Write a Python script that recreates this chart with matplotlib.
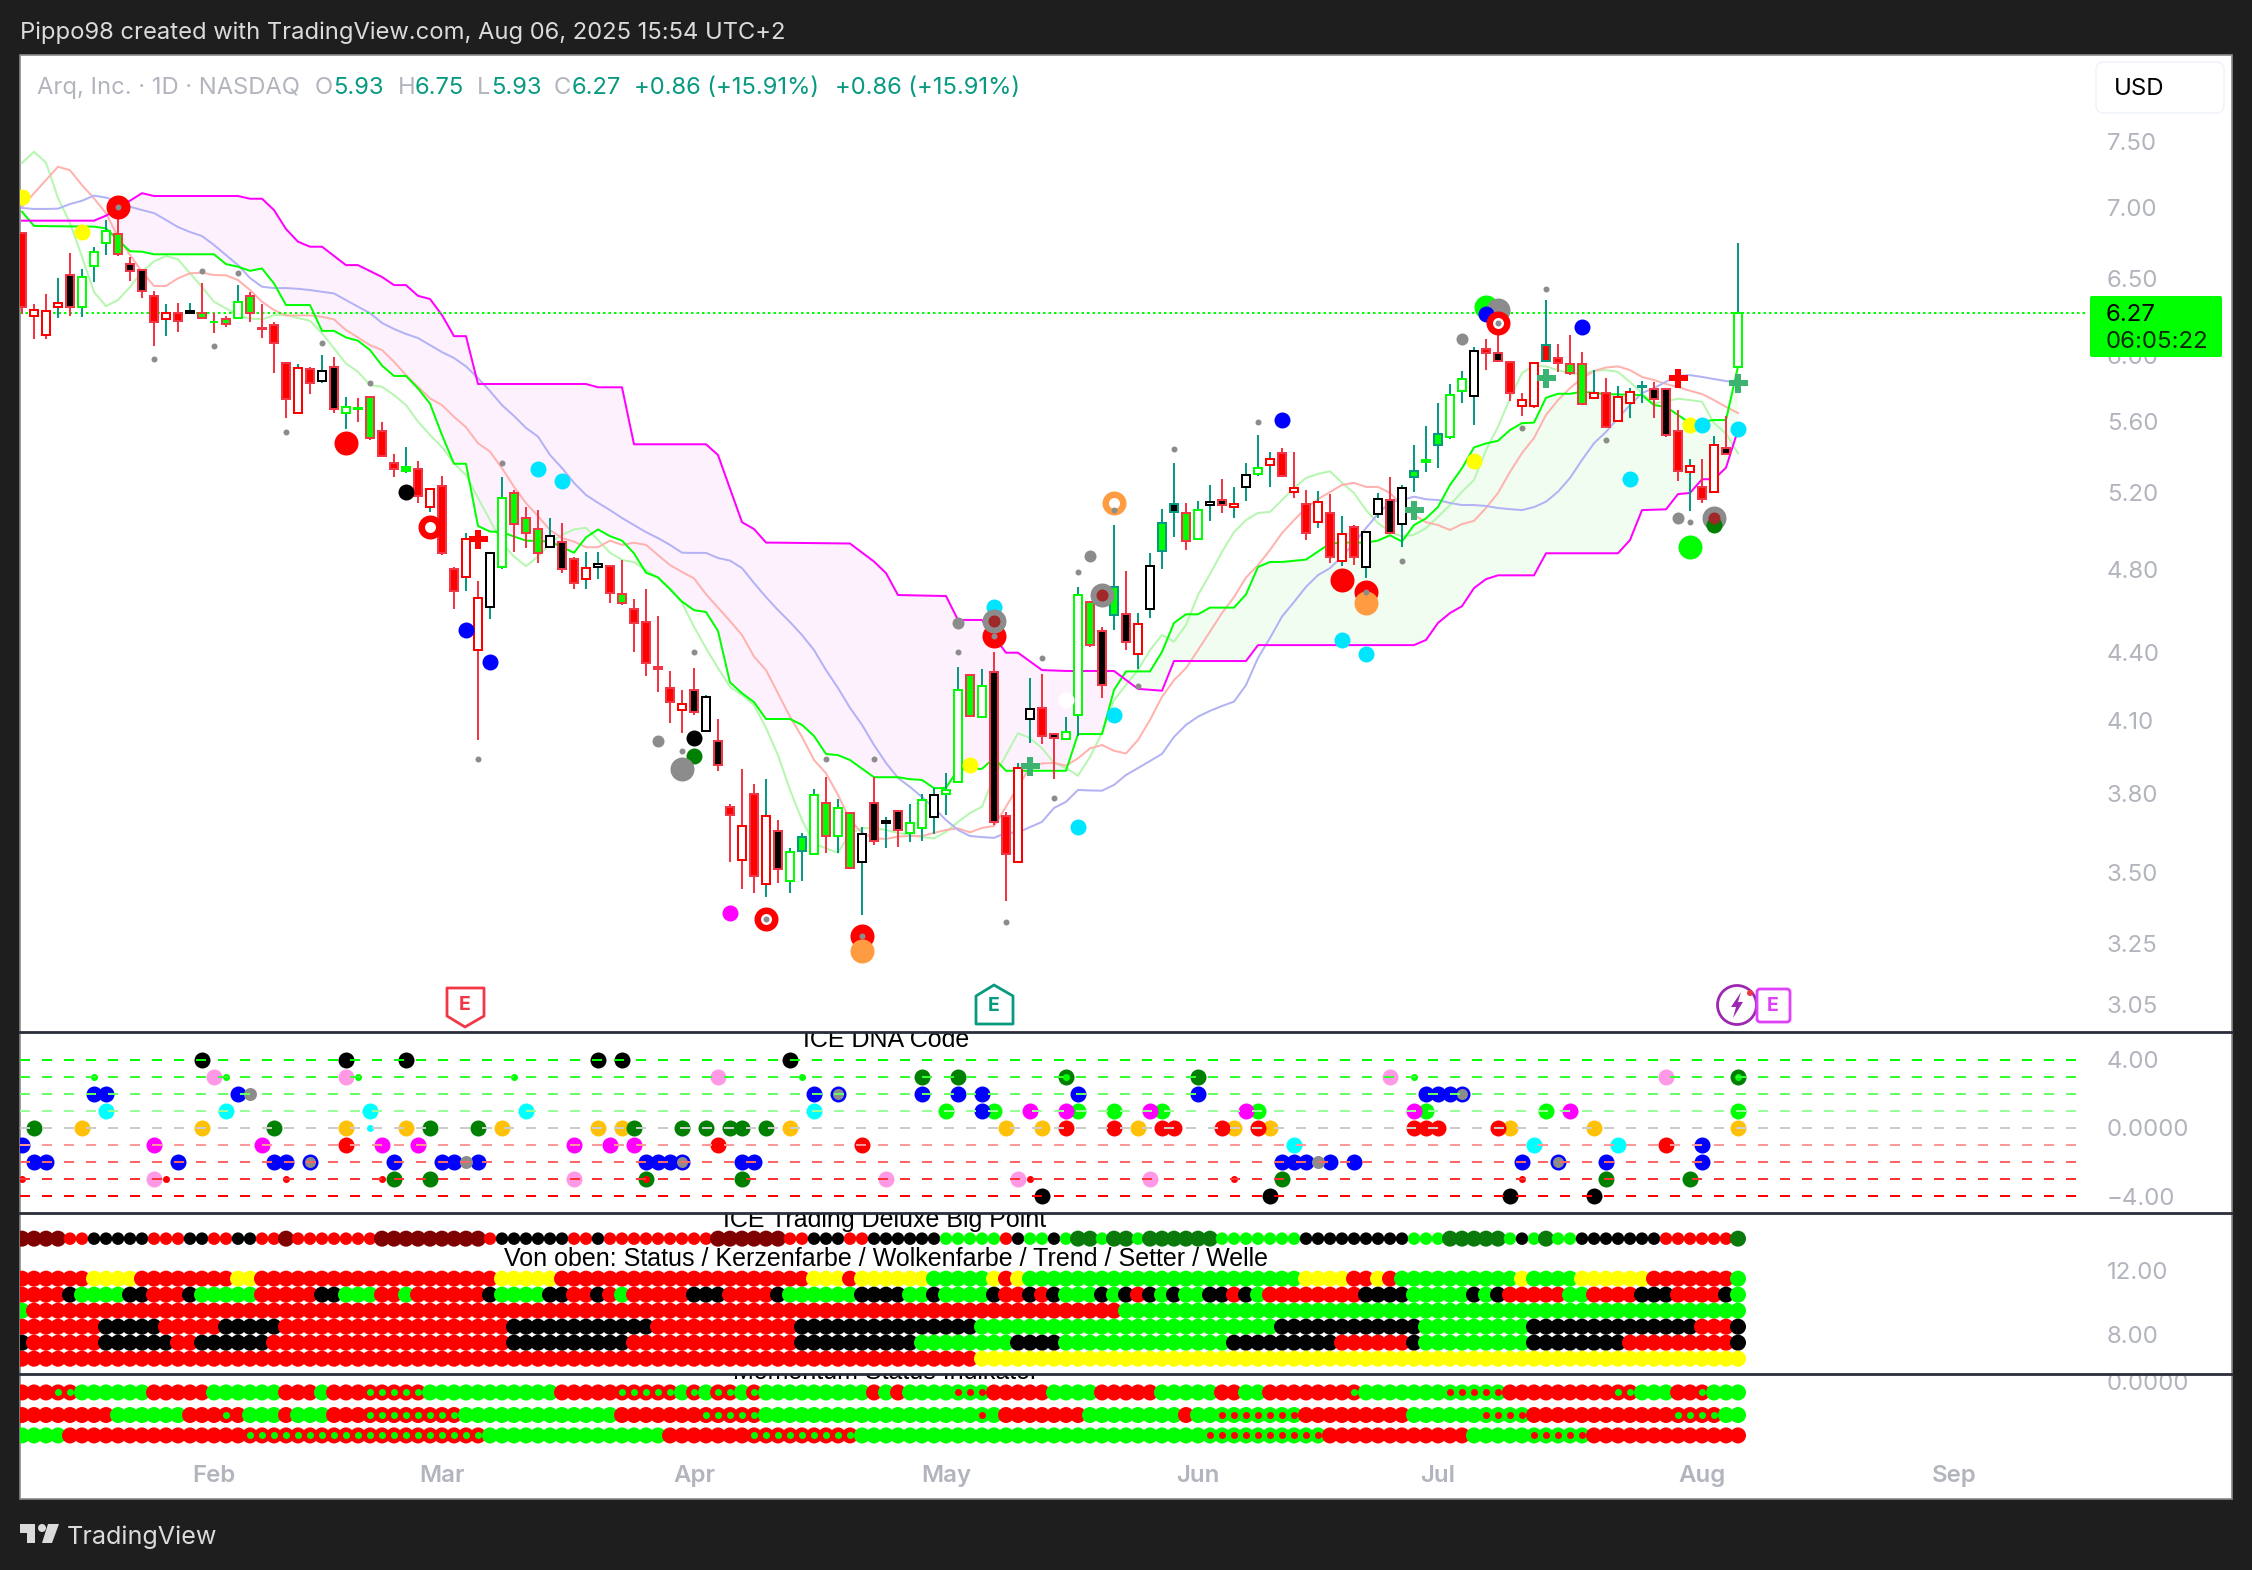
import matplotlib
matplotlib.use("Agg")
import matplotlib.pyplot as plt
import matplotlib.ticker
import numpy as np
from matplotlib.patches import Rectangle, Polygon, FancyBboxPatch, Circle
from matplotlib.lines import Line2D
from matplotlib.transforms import Affine2D

plt.rcParams['font.family'] = ['Inter', 'DejaVu Sans']

W, H = 2252, 1570

# ---- candles, one entry per trading day
highs = [6.819,6.332,6.398,6.506,6.678,6.567,6.720,6.912,6.926,6.650,
  6.560,6.418,6.332,6.338,6.338,6.472,6.272,6.253,6.458,6.411,
  6.332,6.214,5.953,5.947,5.928,6.004,5.991,5.746,5.740,5.746,
  5.598,5.414,5.454,5.375,5.221,5.292,4.812,4.986,4.743,4.889,
  5.287,5.215,5.123,5.107,5.065,5.038,4.863,4.889,4.889,4.817,
  4.848,4.655,4.703,4.573,4.318,4.233,4.331,4.211,4.107,3.758,
  3.898,3.838,3.858,3.696,3.590,3.647,3.818,3.866,3.778,3.723,
  3.669,3.866,3.708,3.731,3.758,3.798,3.822,3.882,4.336,4.300,
  4.327,4.404,3.727,3.923,4.286,4.304,4.043,4.116,4.713,4.640,
  4.520,5.028,4.792,4.587,4.884,5.112,5.364,5.145,5.156,5.243,
  5.276,5.232,5.364,5.523,5.426,5.448,5.426,5.215,5.210,5.193,
  5.075,5.028,4.991,5.199,5.287,5.243,5.465,5.575,5.710,5.825,
  5.904,6.054,6.104,6.162,5.960,5.770,5.953,6.358,6.073,6.130,
  6.022,5.910,5.861,5.813,5.800,5.843,5.837,5.794,5.669,5.386,
  5.386,5.517,5.634,6.750]
body_top = [6.819,6.292,6.285,6.338,6.526,6.513,6.685,6.833,6.812,6.601,
  6.560,6.385,6.272,6.272,6.285,6.272,6.214,6.233,6.345,6.385,
  6.175,6.195,5.953,5.922,5.916,5.904,5.928,5.687,5.681,5.746,
  5.546,5.364,5.342,5.331,5.221,5.237,4.802,4.955,4.660,4.884,
  5.172,5.199,5.065,5.007,4.971,4.940,4.853,4.807,4.828,4.817,
  4.679,4.606,4.544,4.336,4.242,4.172,4.233,4.202,4.014,3.747,
  3.673,3.798,3.711,3.654,3.575,3.631,3.794,3.762,3.743,3.723,
  3.643,3.762,3.692,3.731,3.685,3.774,3.794,3.814,4.233,4.300,
  4.251,4.313,3.711,3.902,4.150,4.155,4.043,4.052,4.674,4.640,
  4.501,4.713,4.582,4.535,4.817,5.038,5.140,5.091,5.107,5.150,
  5.161,5.140,5.297,5.336,5.386,5.420,5.226,5.140,5.150,5.091,
  4.981,5.017,4.991,5.166,5.161,5.226,5.320,5.381,5.529,5.758,
  5.855,6.029,6.041,6.016,5.960,5.728,5.953,6.067,5.985,5.947,
  5.947,5.770,5.770,5.746,5.776,5.813,5.794,5.794,5.546,5.347,
  5.232,5.465,5.448,6.270]
body_bot = [6.312,6.253,6.130,6.312,6.312,6.312,6.587,6.748,6.671,6.553,
  6.418,6.214,6.233,6.220,6.272,6.240,6.211,6.201,6.240,6.272,
  6.169,6.079,5.734,5.651,5.831,5.843,5.675,5.651,5.675,5.506,
  5.403,5.331,5.320,5.183,5.123,4.884,4.693,4.763,4.413,4.616,
  4.812,5.033,4.986,4.884,4.914,4.802,4.733,4.753,4.812,4.684,
  4.636,4.540,4.354,4.327,4.180,4.146,4.137,4.056,3.915,3.715,
  3.545,3.486,3.458,3.512,3.468,3.578,3.567,3.635,3.635,3.515,
  3.538,3.616,3.685,3.658,3.647,3.665,3.708,3.798,3.846,4.120,
  4.116,3.688,3.567,3.538,4.107,4.035,4.026,4.022,4.124,4.436,
  4.255,4.578,4.451,4.395,4.606,4.894,5.096,4.945,4.955,5.134,
  5.134,5.123,5.232,5.303,5.353,5.292,5.204,4.986,5.043,4.863,
  4.843,4.863,4.812,5.086,4.986,5.033,5.287,5.370,5.465,5.511,
  5.782,5.752,6.016,5.966,5.770,5.692,5.692,5.966,5.953,5.892,
  5.704,5.740,5.569,5.604,5.710,5.806,5.734,5.523,5.320,5.314,
  5.166,5.204,5.414,5.930]
lows = [6.266,6.104,6.104,6.240,6.253,6.247,6.479,6.664,6.657,6.485,
  6.371,6.060,6.124,6.149,6.266,6.240,6.143,6.182,6.240,6.214,
  6.111,5.892,5.622,5.651,5.764,5.831,5.651,5.558,5.598,5.494,
  5.403,5.287,5.308,5.145,5.096,4.873,4.606,4.693,4.018,4.559,
  4.802,4.889,4.909,4.833,4.914,4.782,4.703,4.703,4.753,4.636,
  4.626,4.404,4.295,4.224,4.090,4.047,4.124,4.056,3.890,3.538,
  3.440,3.425,3.411,3.461,3.425,3.468,3.567,3.571,3.571,3.512,
  3.347,3.601,3.590,3.594,3.612,3.616,3.643,3.715,3.846,4.116,
  4.116,3.677,3.396,3.538,4.005,4.001,3.858,4.018,4.035,4.426,
  4.198,4.506,4.413,4.327,4.563,4.802,4.965,4.899,4.950,5.049,
  5.091,5.065,5.156,5.292,5.232,5.287,5.172,4.950,5.012,4.833,
  4.817,4.822,4.758,5.065,4.981,4.914,5.204,5.314,5.336,5.500,
  5.710,5.581,5.910,5.960,5.722,5.634,5.681,5.960,5.898,5.879,
  5.698,5.734,5.564,5.604,5.622,5.710,5.622,5.511,5.265,5.102,
  5.145,5.204,5.414,5.930]
# u = up day (teal wick), d = down day (red wick)
direction = ("ddduduuuddddududddud" + "dddudududdddududdudu" +
  "uddd" "u" "dd" "uu" "dddddddd" "u" "dd" +
  "ddu" "d" "uuu" "d" "u" "d" "u" "d" "u" "d" "uuuuu" "d" +
  "u" "dd" "uu" "dd" "uu" "dd" "u" "d" "uuuu" "d" "uu" +
  "d" "uuuu" "ddd" "u" "d" "u" "d" "uu" "d" "uuuuu" +
  "uu" "ddddd" "u" "ddd" "u" "d" "uuu" "ddd" "u" +
  "dudu")
# body colours: R/K/G filled, L flat lime, r/k/g hollow
body_style = ("RrrrKgggGKKRrRkGLGgG" "RRRrRkKgLGRRLRrRRrrk" "gGGGkKRrkRGRRRRrKkKR"
  "rRrKgGgGgGkKkKggkggG" "gKRrkRKggGKGKrkGKGgk" "KrkgrRrRrRrRkkKkGLGg"
  "gkRKRrrRRGGrRrrGKKRr" "RrKg")

# ---- overlay lines
magenta_k = [0,6,7,10,11,18,19,20,21,22,23,24,25,27,28,30,31,32,33,34,35,36,37,38,47,48,50,51,57,58,60,61,62,69,71,72,73,77,78,80,82,83,85,87,91,93,95,96,102,103,116,117,118,119,120,121,122,123,126,127,133,134,135,137,138,139,140,141,142,143]
magenta_p = [6.907,6.907,6.943,7.108,7.087,7.087,7.067,7.067,6.984,6.847,6.757,6.722,6.722,6.594,6.594,6.513,6.458,6.458,6.386,6.365,6.259,6.123,6.123,5.825,5.825,5.805,5.805,5.470,5.470,5.409,5.043,5.007,4.937,4.932,4.840,4.782,4.674,4.669,4.554,4.554,4.401,4.401,4.322,4.318,4.318,4.238,4.230,4.363,4.363,4.436,4.436,4.460,4.540,4.587,4.620,4.708,4.752,4.771,4.771,4.882,4.882,4.950,5.107,5.111,5.193,5.199,5.274,5.274,5.338,5.552]
lime_k = [0,1,6,7,8,9,10,11,16,17,18,19,20,21,22,24,25,26,27,28,29,30,31,32,33,34,35,36,37,38,39,40,41,42,44,46,47,48,49,50,51,52,53,54,55,56,57,58,59,60,61,62,64,65,66,67,68,69,71,73,74,75,76,77,78,80,81,82,87,88,90,91,92,94,95,96,97,98,99,101,102,103,104,105,107,108,109,110,112,113,114,115,116,117,118,119,120,121,122,123,124,125,126,127,128,129,130,132,135,136,137,138,139,141,142,143]
lime_p = [6.972,6.869,6.864,6.852,6.769,6.690,6.687,6.669,6.669,6.601,6.583,6.555,6.571,6.469,6.325,6.325,6.157,6.157,6.115,6.094,6.035,5.938,5.874,5.874,5.798,5.707,5.523,5.360,5.360,5.023,4.994,4.991,4.968,4.947,4.942,4.885,4.964,5.005,4.970,4.947,4.882,4.784,4.761,4.702,4.642,4.601,4.592,4.502,4.267,4.219,4.180,4.107,4.107,4.082,4.035,3.960,3.955,3.935,3.865,3.865,3.857,3.854,3.821,3.822,3.897,3.899,3.943,3.891,3.891,4.043,4.043,4.233,4.316,4.316,4.405,4.540,4.581,4.581,4.613,4.613,4.677,4.813,4.838,4.838,4.850,4.891,4.932,4.937,4.937,4.947,4.975,4.942,5.028,5.063,5.124,5.243,5.335,5.452,5.475,5.490,5.552,5.592,5.595,5.742,5.766,5.766,5.778,5.764,5.758,5.698,5.688,5.640,5.592,5.610,5.610,5.933]
faint_green = [7.335,7.422,7.338,7.072,6.890,6.652,6.411,6.318,6.358,6.445,
  6.549,6.620,6.657,6.634,6.538,6.445,6.347,6.303,6.259,6.237,
  6.231,6.259,6.259,6.240,6.222,6.142,6.046,5.951,5.899,5.819,
  5.808,5.758,5.698,5.601,5.523,5.454,5.362,5.297,5.172,5.054,
  4.934,4.865,4.817,4.865,4.934,4.977,5.005,5.014,4.950,4.885,
  4.848,4.837,4.797,4.758,4.708,4.636,4.522,4.422,4.331,4.247,
  4.211,4.167,4.069,3.955,3.814,3.696,3.608,3.588,3.572,3.645,
  3.665,3.665,3.658,3.647,3.639,3.631,3.626,3.651,3.689,3.723,
  3.748,3.867,3.955,4.047,4.026,3.984,3.923,3.902,3.871,3.948,
  4.048,4.189,4.255,4.322,4.413,4.483,4.452,4.530,4.674,4.777,
  4.889,4.991,5.054,5.092,5.097,5.161,5.226,5.281,5.303,5.318,
  5.254,5.199,5.107,5.038,4.994,4.968,4.977,5.012,5.071,5.134,
  5.206,5.270,5.437,5.571,5.738,5.892,5.938,5.933,5.910,5.889,
  5.885,5.906,5.910,5.899,5.837,5.768,5.707,5.722,5.736,5.728,
  5.718,5.592,5.532,5.418]
faint_red = [7.008,7.107,7.206,7.307,7.280,7.168,7.070,6.960,6.792,6.664,
  6.549,6.452,6.452,6.504,6.538,6.542,6.526,6.524,6.492,6.425,
  6.347,6.292,6.257,6.257,6.257,6.248,6.231,6.162,6.115,6.066,
  6.035,5.962,5.879,5.808,5.738,5.698,5.629,5.568,5.476,5.428,
  5.335,5.233,5.144,5.075,5.002,4.960,4.942,4.913,4.913,4.947,
  4.925,4.936,4.925,4.873,4.822,4.788,4.756,4.678,4.613,4.549,
  4.483,4.383,4.322,4.218,4.117,4.031,3.935,3.881,3.794,3.696,
  3.647,3.626,3.624,3.633,3.635,3.635,3.647,3.658,3.664,3.649,
  3.666,3.673,3.748,3.827,3.907,3.921,3.923,3.912,3.942,3.983,
  3.997,3.973,3.962,4.018,4.103,4.203,4.277,4.331,4.413,4.499,
  4.587,4.664,4.760,4.822,4.899,4.986,5.054,5.118,5.166,5.204,
  5.243,5.254,5.232,5.232,5.199,5.134,5.081,5.043,5.028,5.002,
  5.033,5.050,5.118,5.199,5.314,5.420,5.506,5.640,5.728,5.800,
  5.861,5.904,5.926,5.933,5.910,5.868,5.849,5.825,5.806,5.784,
  5.764,5.728,5.688,5.651]
faint_blue = [6.999,6.992,6.992,6.994,7.028,7.052,7.090,7.075,7.049,7.008,
  6.984,6.962,6.912,6.861,6.826,6.797,6.734,6.664,6.594,6.506,
  6.447,6.438,6.438,6.433,6.425,6.413,6.402,6.358,6.314,6.272,
  6.208,6.169,6.137,6.111,6.066,6.022,5.985,5.933,5.861,5.782,
  5.698,5.634,5.564,5.514,5.409,5.336,5.254,5.188,5.146,5.107,
  5.065,5.028,4.991,4.960,4.925,4.885,4.884,4.884,4.858,4.845,
  4.807,4.733,4.664,4.601,4.544,4.483,4.413,4.322,4.242,4.155,
  4.082,3.997,3.923,3.862,3.826,3.786,3.743,3.696,3.658,3.635,
  3.631,3.628,3.647,3.648,3.669,3.689,3.743,3.767,3.814,3.812,
  3.811,3.834,3.874,3.902,3.931,3.960,4.031,4.082,4.117,4.142,
  4.163,4.182,4.255,4.377,4.469,4.570,4.640,4.714,4.772,4.807,
  4.865,4.934,5.012,5.086,5.150,5.161,5.179,5.165,5.161,5.145,
  5.134,5.134,5.129,5.118,5.112,5.107,5.123,5.152,5.206,5.281,
  5.381,5.476,5.541,5.622,5.698,5.770,5.800,5.839,5.876,5.879,
  5.868,5.855,5.843,5.831]

# ---- signal markers on the price pane (drawn in this order)
signals = [(0,7.079,'yellow'),(5,6.828,'yellow'),(8,7.008,'red'),(8,7.008,'gs'),
  (15,6.553,'gs'),(18,6.542,'gs'),(16,6.060,'gs'),(11,5.980,'gs'),(25,6.082,'gs'),(29,5.831,'gs'),(22,5.542,'gs'),(40,5.366,'gs'),
  (27,5.479,'red'),(32,5.206,'black'),(43,5.331,'cyan'),(45,5.266,'cyan'),(34,5.019,'ring'),(38,4.955,'redplus'),
  (37,4.506,'blue'),(39,4.359,'blue'),(38,3.939,'gs'),(56,4.404,'gs'),(53,4.015,'gm'),(56,4.026,'black'),(55,3.972,'gs'),
  (56,3.951,'dkgreen'),(55,3.898,'gb'),(59,3.356,'magenta'),(62,3.334,'ring'),(62,3.334,'gs'),
  (70,3.276,'red'),(70,3.276,'gs'),(70,3.224,'orange'),(82,3.324,'gs'),(88,3.670,'cyan'),(84,3.911,'plus'),(79,3.915,'yellow'),
  (87,4.189,'white'),(91,4.124,'cyan'),(93,4.251,'gs'),(85,4.378,'gs'),(86,3.783,'gs'),(67,3.940,'gs'),(71,3.940,'gs'),
  (78,4.405,'gs'),(78,4.540,'gm'),(81,4.618,'cyan'),(81,4.478,'red'),(81,4.478,'gs'),(81,4.551,'gb'),(81,4.551,'brown'),
  (89,4.868,'gm'),(88,4.789,'gs'),(90,4.674,'gb'),(90,4.674,'brown'),(91,5.145,'oring'),(91,5.107,'gs'),
  (110,4.748,'red'),(110,4.460,'cyan'),(112,4.689,'red'),(112,4.636,'orange'),(112,4.689,'gs'),(112,4.395,'cyan'),(115,4.843,'gs'),
  (96,5.443,'gs'),(103,5.600,'gs'),(105,5.610,'blue'),(121,5.377,'yellow'),(116,5.107,'plus'),(120,6.106,'gm'),
  (122,6.312,'lime'),(123,6.292,'gb'),(122,6.266,'blue'),(123,6.209,'ring'),(123,6.209,'gs'),
  (127,6.432,'gs'),(130,6.183,'blue'),(127,5.861,'plus'),(125,5.565,'gs'),(132,5.494,'gs'),(134,5.276,'cyan'),(138,5.861,'redplus'),
  (139,5.581,'yellow'),(140,5.581,'cyan'),(143,5.558,'cyan'),(143,5.833,'plus'),(138,5.066,'gm'),(139,5.043,'gs'),
  (141,5.065,'gb'),(141,5.028,'dkgreen'),(141,5.065,'brown'),(139,4.916,'lime')]

price_ticks = [3.05,3.25,3.50,3.80,4.10,4.40,4.80,5.20,5.60,6.00,6.50,7.00,7.50]
last_price = 6.27

# ---- ICE DNA Code, bars per level and dot type
dna_levels = [4,3,2,1,0,-1,-2,-3,-4]
dna_colors = ['#00ff00','#33ff33','#66ff66','#99ff99','#cccccc','#ff9999','#ff6666','#ff3333','#ff0000']
dna_dots = {
  4: {'k':[15,27,32,48,50,64]},
  3: {'l':[6,17,28,41,65,116],'p':[16,27,58,114,137],'d':[75,78,98],'T':[87,143]},
  2: {'b':[6,7,18,66,75,78,80,88,98,117,118,119],'a':[19],'B':[68,120]},
  1: {'c':[7,17,29,42,66],'W':[77,81,88,91,95,103,117,127,143],'b':[80],'m':[84,87,94,102,116,129]},
  0: {'o':[5,15,27,32,40,48,50,64,82,85,93,101,104,124,131,143],'d':[1,21,34,38,51,55,57,59,60,62],'C':[29],'r':[87,91,95,96,100,103,116,117,118,123]},
  -1: {'b':[0,140],'m':[11,20,30,33,46,49,51],'r':[27,58,70,137],'c':[106,126,133]},
  -2: {'b':[1,2,13,21,22,31,35,36,38,52,53,54,60,61,105,106,107,109,111,125,132,140],'B':[24,55,128],'a':[37,108]},
  -3: {'s':[0,12,22,30,84,101,125],'p':[11,46,72,83,94],'d':[31,34,60,105,132,139],'U':[52]},
  -4: {'k':[85,104,124,131]},
}

# ---- ICE Trading Deluxe rows
big_point_row = ("D"*4+"R"*2+"K"*5+"R"*3+"K"*2+"R"*2+"K"*2+"R"*2+"D"+"R"*7+"D"*9+"R"+"K"*6+"R"*2+"K"+"R"*9+"D"*6+"R"*2+"K"*3+"R"*2+"K"*6
  +"L"*5+"R"+"K"+"L"*2+"K"+"L"+"O"*2+"L"+"O"*2+"L"+"O"*6+"L"*7+"K"*9+"L"*3+"O"*5+"L"+"K"+"L"+"O"+"L"*2+"K"*7+"R"*6+"O")
status_row = "R"*6+"Y"*4+"R"*8+"Y"*2+"R"*20+"Y"*5+"R"*21+"Y"*3+"R"+"Y"*6+"L"*5+"Y"+"R"+"Y"+"L"*23+"Y"*4+"R"*2+"Y"+"R"+"L"*10+"Y"+"L"*4+"Y"*6+"R"*7+"L"
candle_row = ("R"*4+"K"+"L"*4+"K"*2+"R"*3+"K"+"L"*5+"R"*5+"K"*2+"L"*3+"R"*2+"L"+"R"*6+"K"+"L"*4+"K"*2+"R"*2+"K"+"R"+"L"+"R"*5+"K"*3+"R"*4+"K"+"L"*6+"K"*4+"L"*2+"K"+"L"*4+"K"+"R"*2
  +"K"+"R"+"K"+"L"*3+"K"+"L"+"K"+"R"+"K"+"L"+"K"+"L"*2+"K"*2+"R"+"K"+"L"+"R"*8+"K"*4+"L"*5+"K"+"L"+"K"+"R"*5+"L"*2+"R"*4+"K"*3+"R"*4+"K"+"L")
cloud_row = "L"+"R"*91+"L"*52
trend_row = "R"*7+"K"*5+"R"*5+"K"*5+"R"*19+"K"*12+"R"*12+"K"*15+"L"*25+"K"*12+"L"*9+"K"*14+"R"*3+"K"
setter_row = "K"+"R"*6+"K"*6+"R"*2+"K"*6+"R"*20+"K"*10+"R"*14+"K"*10+"L"*8+"K"*4+"L"*14+"K"*9+"R"*6+"K"+"L"*9+"K"*8+"R"*9+"K"
wave_row = "R"*80+"Y"*64
ice_rows = [(11.5,status_row),(10.5,candle_row),(9.5,cloud_row),(8.5,trend_row),(7.5,setter_row),(6.5,wave_row)]

# ---- Momentum rows: r = red with lime centre, g = lime with red centre
mom_a = ("R"*3+"r"*2+"L"*6+"R"*5+"L"*6+"R"*3+"L"+"R"*3+"r"*5+"L"*11+"R"*5+"r"*5+"L"+"r"+"L"+"r"*2+"L"+"r"+"L"*9+"R"+"L"+"R"+"L"*4+"g"*3
  +"R"*5+"L"*4+"R"*5+"L"*5+"R"*2+"L"*2+"R"*7+"r"+"L"*7+"g"*5+"R"*9+"r"*2+"L"*3+"R"*2+"r"+"L"*3)
mom_b = ("R"*8+"L"*6+"R"*3+"r"+"R"+"L"*3+"R"+"L"*3+"R"*3+"r"*8+"L"*13+"R"*7+"r"*5+"L"*18+"g"+"L"+"R"*7+"L"*8+"R"+"L"*2+"g"*7+"R"*9+"L"*6+"g"*4+"R"*12+"r"*4+"L"*2)
mom_c = "L"*4+"R"*15+"r"*20+"L"*15+"R"*7+"r"*9+"L"*29+"g"*10+"R"*12+"L"*5+"g"*5+"R"*13
mom_rows = [(-0.5,mom_a),(-1.55,mom_b),(-2.5,mom_c)]

month_k = [16,35,56,77,98,118,140,161]
month_names = ['Feb','Mar','Apr','May','Jun','Jul','Aug','Sep']

RED, GREEN, BLACK, TEAL, WICKRED = '#ff0000', '#00ff00', '#000000', '#089981', '#f23645'
GRAY = '#b2b5be'
TICK = 17.3
TITLE = 18
LW = 1.44   # 2 px


def pt(d):
  return (d*0.72)**2


def px_axes(t, b):
  return fig.add_axes([20/W, 1-b/H, (2086-20)/W, (b-t)/H])


def setup(ax, ticks, labels, ylim):
  ax.set_xlim(-1/6, 172)
  ax.set_ylim(*ylim)
  ax.patch.set_visible(False)
  for s in ax.spines.values():
    s.set_visible(False)
  ax.yaxis.tick_right()
  ax.set_yticks(ticks, labels)
  ax.minorticks_off()
  ax.tick_params(axis='y', length=0, pad=15, labelsize=TICK, labelcolor=GRAY)
  ax.set_xticks([])


fig = plt.figure(figsize=(W/100, H/100), dpi=100, facecolor='#1e1e1e')
px = Affine2D().scale(1/W, -1/H).translate(0, 1) + fig.transFigure

fig.add_artist(Rectangle((20, 55), 2212, 1444, transform=px, facecolor='white', edgecolor='#8a8a8a', lw=1.2, zorder=-1))

# ---- price pane
ax = px_axes(55, 1031)
ax.set_yscale('log')
setup(ax, price_ticks, ['%.2f' % p for p in price_ticks], (2.966, 8.21))
ax.yaxis.set_minor_formatter(matplotlib.ticker.NullFormatter())

days = np.arange(144)
span_m = np.exp(np.interp(days, magenta_k, np.log(magenta_p)))
span_l = np.exp(np.interp(days, lime_k, np.log(lime_p)))
ax.fill_between(days, span_l, span_m, where=span_m >= span_l, interpolate=True, color='#fef1fe', lw=0, zorder=1)
ax.fill_between(days, span_l, span_m, where=span_m <= span_l, interpolate=True, color='#f1fdf1', lw=0, zorder=1)

ax.plot(days, faint_green, color='#b6f7b0', lw=LW, zorder=2)
ax.plot(days, faint_red, color='#ffb2ae', lw=LW, zorder=2)
ax.plot(days, faint_blue, color='#b2b2f5', lw=LW, zorder=2)
ax.plot(lime_k, lime_p, color=GREEN, lw=LW, zorder=2.2)
ax.plot(magenta_k, magenta_p, color='#ff00ff', lw=LW, zorder=2.2)
ax.axhline(last_price, color=GREEN, lw=LW, ls=(0, (1.25, 1.5)), zorder=2.5)

wick_colors = [TEAL if c == 'u' else WICKRED for c in direction]
ax.vlines(days, lows, highs, colors=wick_colors, lw=LW, zorder=3)
fills = {'R': RED, 'K': BLACK, 'G': GREEN, 'L': GREEN, 'r': 'white', 'k': 'white', 'g': 'white'}
edges = {'L': GREEN, 'r': RED, 'k': BLACK, 'g': GREEN}
face = [fills[s] for s in body_style]
edge = [edges.get(s, TEAL if c == 'u' else WICKRED) for s, c in zip(body_style, direction)]
ax.bar(days, np.array(body_top)-np.array(body_bot), bottom=body_bot, width=8/12, color=face, edgecolor=edge, linewidth=LW, zorder=4)

kinds = {'gs': ('o', 6, '#8c8c8c'), 'gm': ('o', 12, '#8c8c8c'), 'gb': ('o', 24, '#8c8c8c'), 'red': ('o', 24, RED), 'lime': ('o', 24, GREEN),
  'orange': ('o', 24, '#ff9c42'), 'cyan': ('o', 16, '#00e5ff'), 'blue': ('o', 16, '#0000ff'), 'black': ('o', 16, BLACK), 'yellow': ('o', 16, '#ffff00'),
  'magenta': ('o', 16, '#ff00ff'), 'dkgreen': ('o', 16, '#008000'), 'white': ('o', 16, '#ffffff'), 'brown': ('o', 12, '#a02828'),
  'plus': ('P', 19, '#3cb371'), 'redplus': ('P', 19, RED)}
for k, p, kind in signals:
  if kind in ('ring', 'oring'):
    c = RED if kind == 'ring' else '#ff9c42'
    ax.scatter([k], [p], s=pt(24), color=c, lw=0, zorder=5)
    ax.scatter([k], [p], s=pt(11), color='white', lw=0, zorder=5)
  else:
    m, d, c = kinds[kind]
    ax.scatter([k], [p], s=pt(d), marker=m, color=c, lw=0, zorder=5)
ax.set_xlim(-1/6, 172)
ax.set_ylim(2.966, 8.21)

# ---- ICE DNA Code pane
ax2 = px_axes(1033, 1212)
setup(ax2, [4, 0, -4], ['4.00', '0.0000', '\u22124.00'], (-4.941, 5.588))
dna_style = {'k': (16, BLACK), 'p': (16, '#ff99e6'), 'l': (7, GREEN), 'd': (16, '#008000'), 'b': (16, '#0000ff'), 'a': (13, '#8c8c8c'),
  'c': (16, '#00ffff'), 'W': (16, GREEN), 'm': (16, '#ff00ff'), 'o': (16, '#ffc107'), 'C': (7, '#00ffff'), 'r': (16, RED), 's': (7, RED)}
for level, groups in dna_dots.items():
  for code, ks in groups.items():
    y = [level]*len(ks)
    if code == 'B':
      ax2.scatter(ks, y, s=pt(16), color='#0000ff', lw=0, zorder=2)
      ax2.scatter(ks, y, s=pt(11), color='#8c8c8c', lw=0, zorder=2.1)
    elif code == 'T':
      ax2.scatter(ks, y, s=pt(16), color='#008000', lw=0, zorder=2)
      ax2.scatter(ks, y, s=pt(7), color=GREEN, lw=0, zorder=2.1)
    elif code == 'U':
      ax2.scatter(ks, y, s=pt(16), color='#008000', lw=0, zorder=2)
      ax2.scatter(ks, y, s=pt(7), color=RED, lw=0, zorder=2.1)
    else:
      d, c = dna_style[code]
      ax2.scatter(ks, y, s=pt(d), color=c, lw=0, zorder=2)
ax2.hlines(dna_levels, -1/6, 171.17, colors=dna_colors, lw=LW, linestyles=[(0, (5, 6))], zorder=3)
ax2.set_xlim(-1/6, 172)
ax2.set_ylim(-4.941, 5.588)
ax2.text(886, 1040, 'ICE DNA Code', transform=px, clip_on=True, ha='center', va='center', fontsize=TITLE, family='Liberation Sans', color=BLACK)

# ---- ICE Trading Deluxe pane
ax3 = px_axes(1214, 1373)
setup(ax3, [12, 8], ['12.00', '8.00'], (5.606, 15.54))
row_colors = {'R': RED, 'K': BLACK, 'L': GREEN, 'Y': '#ffff00', 'D': '#800000', 'O': '#0a7a0a'}
ax3.scatter(days, [14]*144, s=[pt(16) if c in 'DO' else pt(12.5) for c in big_point_row], c=[row_colors[c] for c in big_point_row], lw=0, zorder=2)
for y, row in ice_rows:
  ax3.scatter(days, [y]*144, s=pt(16), c=[row_colors[c] for c in row], lw=0, zorder=2)
ax3.set_xlim(-1/6, 172)
ax3.set_ylim(5.606, 15.54)
ax3.text(885, 1220, 'ICE Trading Deluxe Big Point', transform=px, clip_on=True, ha='center', va='center', fontsize=TITLE, family='Liberation Sans', color=BLACK)
ax3.text(886, 1259, 'Von oben: Status / Kerzenfarbe / Wolkenfarbe / Trend / Setter / Welle', transform=px, clip_on=True, ha='center', va='center', fontsize=TITLE, family='Liberation Sans', color=BLACK)

# ---- Momentum pane
ax4 = px_axes(1375, 1450)
setup(ax4, [0], ['0.0000'], (-3.177, 0.312))
for y, row in mom_rows:
  big = [RED if c in 'Rr' else GREEN for c in row]
  ax4.scatter(days, [y]*144, s=pt(16), c=big, lw=0, zorder=2)
  for code, c in (('r', GREEN), ('g', RED)):
    ks = [k for k, v in enumerate(row) if v == code]
    if ks:
      ax4.scatter(ks, [y]*len(ks), s=pt(7), color=c, lw=0, zorder=3)
ax4.set_xlim(-1/6, 172)
ax4.set_ylim(-3.177, 0.312)
ax4.text(886, 1372, 'Momentum Status Indikator', transform=px, clip_on=True, ha='center', va='center', fontsize=TITLE, family='Liberation Sans', color=BLACK)
ax4.set_xticks(month_k, month_names)
ax4.tick_params(axis='x', length=0, pad=11, labelsize=TICK, labelcolor=GRAY)
for t in ax4.get_xticklabels():
  t.set_fontweight('semibold')

# ---- pane separators
for y in (1032, 1213, 1374):
  fig.add_artist(Line2D([20, 2232], [y, y], transform=px, color='#2a2e39', lw=2))


def label(x, y, s, color, size=TICK, ha='left', **kw):
  fig.text(x/W, 1-y/H, s, color=color, fontsize=size, ha=ha, va='center', zorder=8, **kw)


# ---- header, legend
label(20, 33, 'Pippo98 created with TradingView.com, Aug 06, 2025 15:54 UTC+2', '#dbdbdb', 17.1)
label(37, 88, 'Arq, Inc. \u00b7 1D \u00b7 NASDAQ', GRAY, 17.1)
for x, s in ((315, 'O'), (398, 'H'), (477, 'L'), (554, 'C')):
  label(x, 88, s, GRAY, 17.1)
for x, s in ((333, '5.93'), (415, '6.75'), (491, '5.93'), (572, '6.27'), (634, '+0.86 (+15.91%)'), (835, '+0.86 (+15.91%)')):
  label(x, 88, s, TEAL, 17.1)

# USD box and last price tag
fig.add_artist(FancyBboxPatch((2098, 64), 124, 47, boxstyle='round,pad=2,rounding_size=8', transform=px, facecolor='white', edgecolor='#f0f3fa', lw=1.2, zorder=6))
label(2114, 89, 'USD', BLACK, 17.3)
fig.add_artist(FancyBboxPatch((2091, 297), 130, 59, boxstyle='round,pad=1,rounding_size=2', transform=px, facecolor=GREEN, edgecolor=GREEN, lw=0, zorder=6))
label(2106, 315, '6.27', BLACK, 17.3)
label(2106, 342, '06:05:22', '#0a2a0a', 17.3)


# ---- earnings and dividend badges
def badge(points, color):
  fig.add_artist(Polygon(points, closed=True, transform=px, facecolor='white', edgecolor=color, lw=2, joinstyle='round', zorder=6))


badge([(447, 988), (484, 988), (484, 1016), (465, 1027), (447, 1016)], WICKRED)
label(465, 1005, 'E', WICKRED, 14, ha='center', fontweight='bold')
badge([(994, 985), (1013, 996), (1013, 1024), (976, 1024), (976, 996)], TEAL)
label(994, 1006, 'E', TEAL, 14, ha='center', fontweight='bold')
fig.add_artist(Circle((1737, 1005), 19.5, transform=px, facecolor='white', edgecolor='#9c27b0', lw=2, zorder=6))
fig.add_artist(Polygon([(1741, 992), (1731, 1007), (1736, 1007), (1733, 1018), (1743, 1002), (1738, 1002)], transform=px, facecolor='#9c27b0', lw=0, zorder=7))
fig.add_artist(Circle((1750, 993), 3, transform=px, facecolor=WICKRED, lw=0, zorder=7))
fig.add_artist(FancyBboxPatch((1757, 989), 33, 33, boxstyle='round,pad=0,rounding_size=3', transform=px, facecolor='white', edgecolor='#e040fb', lw=2, zorder=7))
label(1773, 1006, 'E', '#e040fb', 14, ha='center', fontweight='bold')

# ---- TradingView logo
logo = '#dbdbdb'
fig.add_artist(Polygon([(20, 1524), (35, 1524), (35, 1543), (27, 1543), (27, 1533), (20, 1533)], transform=px, facecolor=logo, lw=0))
fig.add_artist(Circle((42, 1528), 4, transform=px, facecolor=logo, lw=0))
fig.add_artist(Polygon([(48, 1524), (59, 1524), (52, 1543), (42, 1543)], transform=px, facecolor=logo, lw=0))
label(67, 1537, 'TradingView', logo, 18.1)

fig.savefig('out.png', dpi=100, facecolor=fig.get_facecolor())
